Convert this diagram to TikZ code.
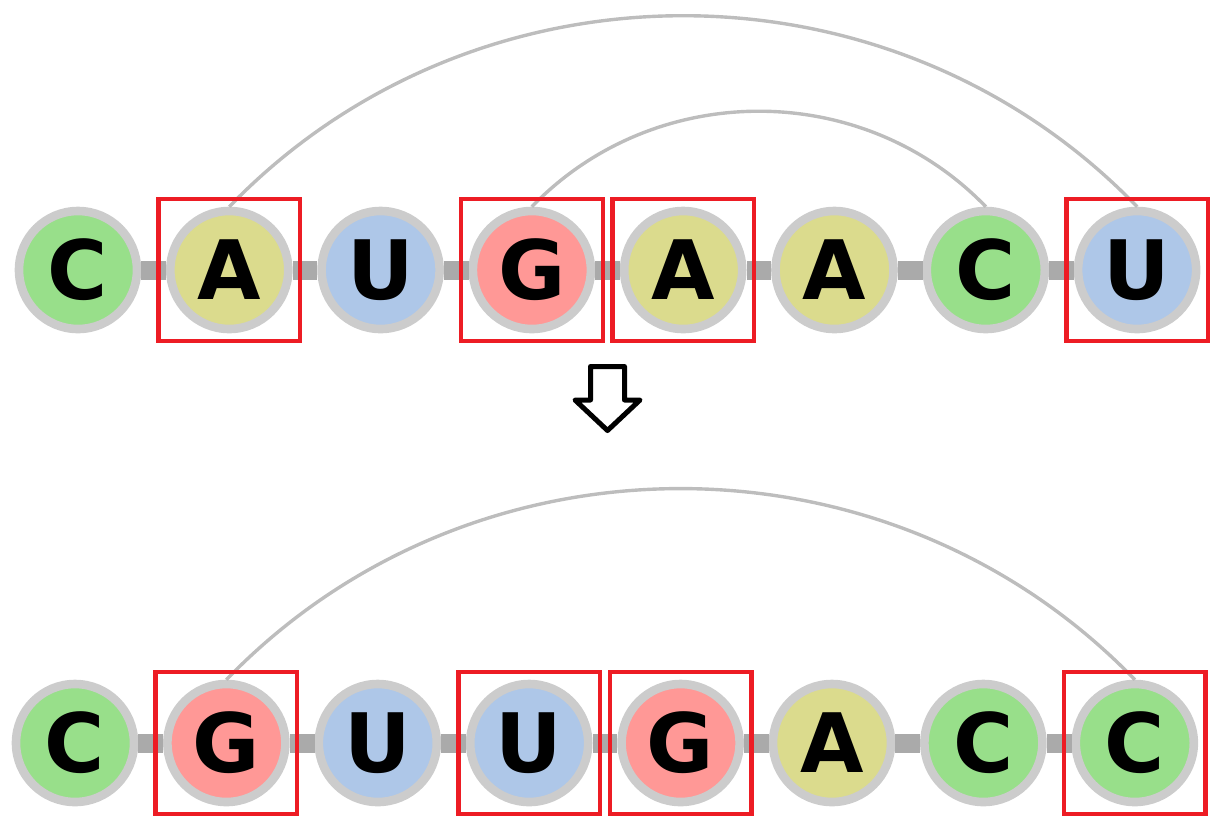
\documentclass[tikz,border=0pt]{standalone}
\usepackage{fontspec}
\setmainfont{DejaVu Sans}
\usepackage{tikz}
\usetikzlibrary{positioning}

\definecolor{baseC}{HTML}{98DF8A}
\definecolor{baseA}{HTML}{DBDB8D}
\definecolor{baseU}{HTML}{AEC7E8}
\definecolor{baseG}{HTML}{FF9896}
\definecolor{ringgray}{HTML}{CCCCCC}
\definecolor{linkgray}{HTML}{AAAAAA}
\definecolor{arcgray}{HTML}{BDBDBD}
\definecolor{boxred}{HTML}{ED1C24}

\tikzset{
  nucleo/.style={circle, draw=ringgray, line width=4.3pt, minimum size=59pt,
    inner sep=0pt, font=\fontsize{41}{41}\selectfont\bfseries},
  backbone/.style={draw=linkgray, line width=9.5pt},
  pairarc/.style={draw=arcgray, line width=1.7pt},
  markbox/.style={draw=boxred, line width=2.2pt, minimum size=70.8pt, inner sep=0pt}
}

\begin{document}
\begin{tikzpicture}[x=0.5pt, y=-0.5pt]
\useasboundingbox (0,0) rectangle (1230,820);
% top sequence
\foreach \i/\nuc in {1/C,2/A,3/U,4/G,5/A,6/A,7/C,8/U}
\node[nucleo, fill=base\nuc] (t\i) at ({78+151.3*(\i-1)},270) {\nuc};
\foreach \i [count=\j from 2] in {1,...,7}
\draw[backbone] (t\i) -- (t\j);
% base pairs top
\draw[pairarc] (t2.north) to[bend left=46] (t8.north);
\draw[pairarc] (t4.north) to[bend left=46] (t7.north);
% red boxes top
\foreach \i in {2,4,5,8}
\node[markbox] (tbox\i) at (t\i) {};

% hollow arrow down
\draw[line width=2.5pt, line join=round] (590.5,366.5) -- (624.5,366.5) -- (624.5,400)
  -- (640,400) -- (607.5,430.5) -- (575,400) -- (590.5,400) -- cycle;

% bottom sequence
\foreach \i/\nuc in {1/C,2/G,3/U,4/U,5/G,6/A,7/C,8/C}
\node[nucleo, fill=base\nuc] (b\i) at ({75+151.4*(\i-1)},743) {\nuc};
\foreach \i [count=\j from 2] in {1,...,7}
\draw[backbone] (b\i) -- (b\j);
% base pair bottom
\draw[pairarc] (b2.north) to[bend left=46] (b8.north);
% red boxes bottom
\foreach \i in {2,4,5,8}
\node[markbox] (bbox\i) at (b\i) {};
\end{tikzpicture}
\end{document}
